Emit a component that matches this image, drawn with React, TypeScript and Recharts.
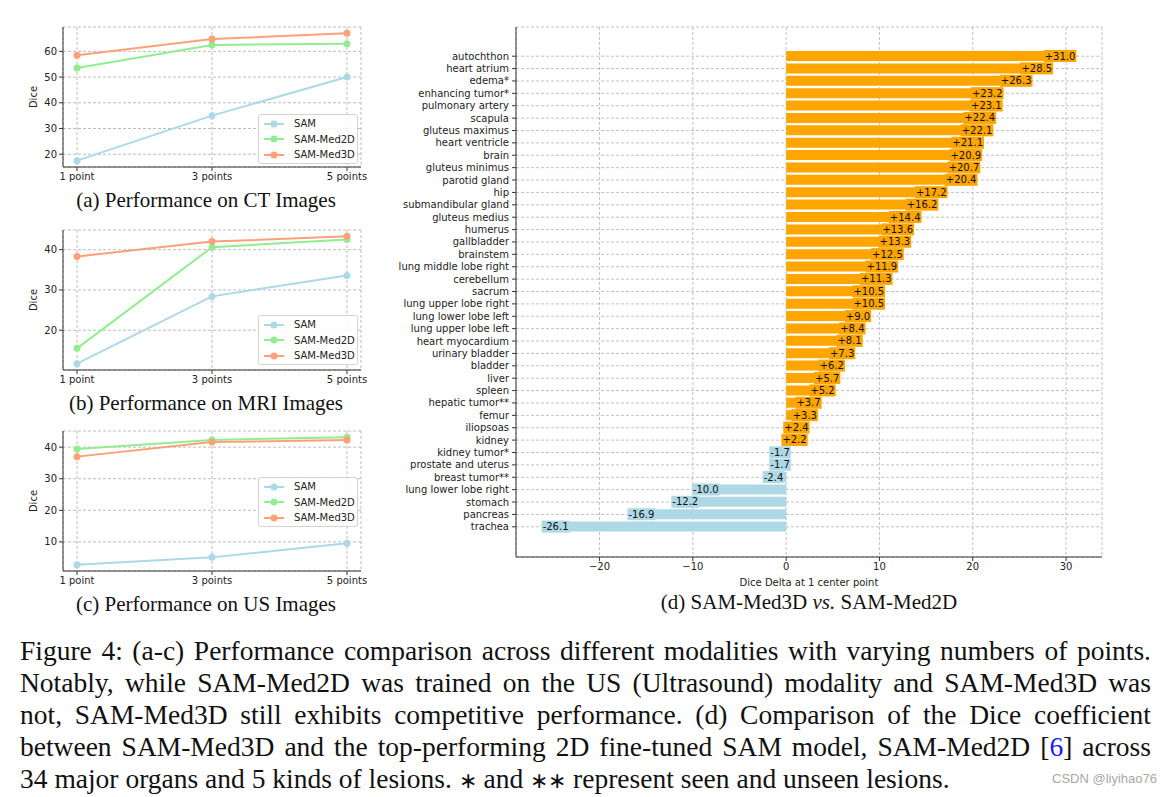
import { LineChart, Line, XAxis, YAxis, CartesianGrid, BarChart, Bar, Cell, LabelList } from 'recharts'

const pointLabels = ['1 point', '3 points', '5 points']
const seriesNames = ['SAM', 'SAM-Med2D', 'SAM-Med3D']
const seriesColors = ['#add8e6', '#90ee90', '#ffa07a']

const ctSam = [17.5, 35.0, 50.0]
const ctMed2d = [53.5, 62.5, 63.0]
const ctMed3d = [58.5, 64.8, 67.0]
const ctTicks = [20, 30, 40, 50, 60]

const mriSam = [11.7, 28.4, 33.6]
const mriMed2d = [15.5, 40.6, 42.5]
const mriMed3d = [38.3, 42.0, 43.3]
const mriTicks = [20, 30, 40]

const usSam = [2.8, 5.1, 9.6]
const usMed2d = [39.4, 42.3, 43.1]
const usMed3d = [37.0, 41.6, 42.3]
const usTicks = [10, 20, 30, 40]

const organs = [
  'autochthon', 'heart atrium', 'edema*', 'enhancing tumor*', 'pulmonary artery', 'scapula',
  'gluteus maximus', 'heart ventricle', 'brain', 'gluteus minimus', 'parotid gland', 'hip',
  'submandibular gland', 'gluteus medius', 'humerus', 'gallbladder', 'brainstem',
  'lung middle lobe right', 'cerebellum', 'sacrum', 'lung upper lobe right', 'lung lower lobe left',
  'lung upper lobe left', 'heart myocardium', 'urinary bladder', 'bladder', 'liver', 'spleen',
  'hepatic tumor**', 'femur', 'iliopsoas', 'kidney', 'kidney tumor*', 'prostate and uterus',
  'breast tumor**', 'lung lower lobe right', 'stomach', 'pancreas', 'trachea',
]
const deltas = [
  31.0, 28.5, 26.3, 23.2, 23.1, 22.4, 22.1, 21.1, 20.9, 20.7, 20.4, 17.2, 16.2, 14.4, 13.6, 13.3,
  12.5, 11.9, 11.3, 10.5, 10.5, 9.0, 8.4, 8.1, 7.3, 6.2, 5.7, 5.2, 3.7, 3.3, 2.4, 2.2, -1.7, -1.7,
  -2.4, -10.0, -12.2, -16.9, -26.1,
]
const deltaTicks = [-20, -10, 0, 10, 20, 30]

const gainColor = '#ffa500'
const lossColor = '#add8e6'
const serif = '"Liberation Serif", "Times New Roman", serif'

// matplotlib-style 5% autoscale margin
function padDomain(values: number[]): [number, number] {
  const lo = Math.min(...values)
  const hi = Math.max(...values)
  const pad = (hi - lo) * 0.05
  return [lo - pad, hi + pad]
}

function SeriesLegend({ top }: { top: number }) {
  return (
    <div
      style={{
        position: 'absolute', left: 258, top, width: 98, height: 48,
        border: '1px solid #d4d4d4', borderRadius: 3, background: 'rgba(255,255,255,0.85)',
        fontSize: 10, color: '#222',
      }}
    >
      {seriesNames.map((name, i) => (
        <div key={name} style={{ position: 'absolute', left: 4, top: 1 + i * 15.5, height: 15, display: 'flex', alignItems: 'center' }}>
          <svg width={22} height={10}>
            <line x1={1} y1={5} x2={21} y2={5} stroke={seriesColors[i]} strokeWidth={2} />
            <circle cx={11} cy={5} r={3.5} fill={seriesColors[i]} />
          </svg>
          <span style={{ marginLeft: 9 }}>{name}</span>
        </div>
      ))}
    </div>
  )
}

type PanelProps = {
  plotTop: number
  sam: number[]
  med2d: number[]
  med3d: number[]
  ticks: number[]
  legendTop: number
  caption: string
}

function ModalityPanel({ plotTop, sam, med2d, med3d, ticks, legendTop, caption }: PanelProps) {
  const rows = pointLabels.map((point, i) => ({ point, sam: sam[i], med2d: med2d[i], med3d: med3d[i] }))
  const domain = padDomain([...sam, ...med2d, ...med3d])
  const keys = ['sam', 'med2d', 'med3d']
  return (
    <>
      <div style={{ position: 'absolute', left: 0, top: plotTop - 5 }}>
        <LineChart width={380} height={171} data={rows} margin={{ top: 5, right: 19, bottom: 0, left: 0 }}>
          <CartesianGrid stroke="#bdbdbd" strokeDasharray="3 2" />
          <XAxis
            dataKey="point" padding={{ left: 14, right: 14 }} height={26} interval={0}
            tick={{ fontSize: 10, fill: '#222' }} tickSize={4} stroke="#333"
          />
          <YAxis
            type="number" domain={domain} ticks={ticks} allowDataOverflow width={63}
            tick={{ fontSize: 10, fill: '#222' }} tickSize={4} stroke="#333"
            label={{ value: 'Dice', angle: -90, position: 'center', dx: 2, fontSize: 10, fill: '#222' }}
          />
          <XAxis xAxisId="top" orientation="top" height={0} tick={false} tickLine={false} stroke="#333" />
          <YAxis yAxisId="right" orientation="right" width={0} tick={false} tickLine={false} stroke="#333" />
          {keys.map((k, i) => (
            <Line
              key={k} dataKey={k} stroke={seriesColors[i]} strokeWidth={2}
              dot={{ r: 3.5, fill: seriesColors[i], stroke: seriesColors[i], strokeWidth: 0 }}
              isAnimationActive={false}
            />
          ))}
        </LineChart>
      </div>
      <SeriesLegend top={legendTop} />
      <div style={{ position: 'absolute', left: 0, width: 412, top: plotTop + 161, textAlign: 'center', fontFamily: serif, fontSize: 21, lineHeight: '24px', color: '#111' }}>
        {caption}
      </div>
    </>
  )
}

const glyphWidths: Record<string, number> = { '+': 8.38, '-': 3.61, '.': 3.18 }
function labelWidth(s: string) {
  return [...s].reduce((w, c) => w + (glyphWidths[c] ?? 6.36), 0)
}

function DeltaLabel(props: any) {
  const box = props.viewBox ?? props
  const value = Number(props.value)
  const x = Number(box.x)
  const w = Number(box.width)
  const y = Number(box.y)
  const h = Number(box.height)
  const text = (value > 0 ? '+' : '') + value.toFixed(1)
  const tw = labelWidth(text)
  const end = value > 0 ? Math.max(x, x + w) : Math.min(x, x + w)
  const left = value > 0 ? end - tw : end
  const cy = y + h / 2
  return (
    <g>
      <rect x={left - 1} y={cy - 6} width={tw + 2} height={12} fill={value > 0 ? gainColor : lossColor} />
      <text x={left} y={cy} dy="0.35em" fontSize={10} fill="#111">{text}</text>
    </g>
  )
}

// plain single-line tick so long organ names don't wrap
function OrganTick(props: any) {
  const { x, y, payload } = props
  return (
    <text x={x} y={y} dy="0.35em" textAnchor="end" fontSize={10} fill="#222">
      {payload.value}
    </text>
  )
}

function DeltaChart() {
  const rows = organs.map((organ, i) => ({ organ, delta: deltas[i] }))
  return (
    <div style={{ position: 'absolute', left: 390, top: 0 }}>
      <BarChart layout="vertical" width={722} height={590} data={rows} margin={{ top: 27, right: 10, bottom: 3, left: 0 }}>
        <CartesianGrid stroke="#c2c2c2" strokeDasharray="3 2" />
        <XAxis
          type="number" domain={padDomain(deltas)} ticks={deltaTicks} allowDataOverflow height={30}
          tickFormatter={(v: number) => (v < 0 ? '\u2212' + Math.abs(v) : String(v))}
          tick={{ fontSize: 10, fill: '#222' }} tickSize={4} stroke="#333"
          label={{ value: 'Dice Delta at 1 center point', position: 'insideBottom', offset: 1, fontSize: 10, fill: '#222' }}
        />
        <YAxis
          type="category" dataKey="organ" width={126} padding={{ top: 23, bottom: 24 }} interval={0}
          tick={OrganTick} tickSize={4} tickMargin={3} stroke="#333"
        />
        <Bar dataKey="delta" barSize={10} isAnimationActive={false}>
          {rows.map((r) => (
            <Cell key={r.organ} fill={r.delta > 0 ? gainColor : lossColor} />
          ))}
          <LabelList dataKey="delta" content={DeltaLabel} />
        </Bar>
      </BarChart>
    </div>
  )
}

const lineStyle = { textAlign: 'justify' as const, textAlignLast: 'justify' as const, whiteSpace: 'nowrap' as const }
const ast = { fontSize: '0.8em' }

export default function App() {
  return (
    <div style={{ position: 'absolute', left: 0, top: 0, width: 1171, height: 797, background: '#fff', fontFamily: '"DejaVu Sans", sans-serif', overflow: 'hidden' }}>
      <ModalityPanel plotTop={27} sam={ctSam} med2d={ctMed2d} med3d={ctMed3d} ticks={ctTicks} legendTop={114} caption="(a) Performance on CT Images" />
      <ModalityPanel plotTop={230} sam={mriSam} med2d={mriMed2d} med3d={mriMed3d} ticks={mriTicks} legendTop={315} caption="(b) Performance on MRI Images" />
      <ModalityPanel plotTop={431} sam={usSam} med2d={usMed2d} med3d={usMed3d} ticks={usTicks} legendTop={477} caption="(c) Performance on US Images" />
      <DeltaChart />
      <div style={{ position: 'absolute', left: 516, width: 586, top: 590, textAlign: 'center', fontFamily: serif, fontSize: 21, lineHeight: '24px', color: '#111' }}>
        (d) SAM-Med3D <i>vs.</i> SAM-Med2D
      </div>
      <div style={{ position: 'absolute', left: 20, top: 635, width: 1131, fontFamily: serif, fontSize: 27.5, lineHeight: '32px', color: '#111' }}>
        <div style={lineStyle}>Figure 4: (a-c) Performance comparison across different modalities with varying numbers of points.</div>
        <div style={lineStyle}>Notably, while SAM-Med2D was trained on the US (Ultrasound) modality and SAM-Med3D was</div>
        <div style={lineStyle}>not, SAM-Med3D still exhibits competitive performance. (d) Comparison of the Dice coefficient</div>
        <div style={lineStyle}>
          between SAM-Med3D and the top-performing 2D fine-tuned SAM model, SAM-Med2D [<span style={{ color: '#1a1aff' }}>6</span>] across
        </div>
        <div style={{ whiteSpace: 'nowrap' }}>
          34 major organs and 5 kinds of lesions. <span style={ast}>{'\u2217'}</span> and <span style={ast}>{'\u2217\u2217'}</span> represent seen and unseen lesions.
        </div>
      </div>
      <div style={{ position: 'absolute', right: 14, top: 771, fontFamily: '"Liberation Sans", Arial, sans-serif', fontSize: 13, color: '#a8a8a8' }}>
        CSDN @liyihao76
      </div>
    </div>
  )
}
